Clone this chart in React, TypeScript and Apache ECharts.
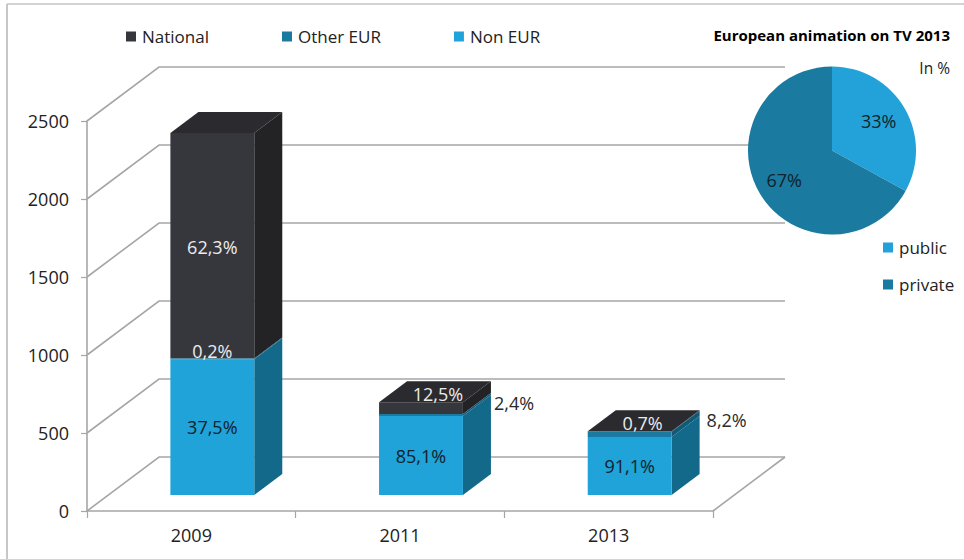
import React, { useEffect, useRef } from "react";
import * as echarts from "echarts";

const years = ["2009", "2011", "2013"];
const nonEur = [870, 506, 372];
const otherEur = [5, 14, 33];
const national = [1445, 75, 3];
const nonEurLabels = ["37,5%", "85,1%", "91,1%"];
const otherEurLabels = ["0,2%", "2,4%", "8,2%"];
const nationalLabels = ["62,3%", "12,5%", "0,7%"];
const gridTicks = [0, 500, 1000, 1500, 2000, 2500];
const pieNames = ["public", "private"];
const pieValues = [33, 67];

const FONT = "'Open Sans', sans-serif";
const DEPTH = { x: 72, y: 54 };
const FRONT = { x: 21, y: 16 };
const BAR = { x: 28, y: 21 };
const GRID_COLOR = "#a6a6a6";

// Stack order bottom -> top; the offsets below are label nudges in pixels.
const stacks = [
  { name: "Non EUR", values: nonEur, labels: nonEurLabels, front: "#1fa3d8", side: "#13698a", top: "#1a7aa0", text: "#10222c", z: 3,
    nudge: [[0, 0], [0, 0], [0, 0]] },
  { name: "Other EUR", values: otherEur, labels: otherEurLabels, front: "#1a7aa0", side: "#105a77", top: "#105a77", text: "#2a2a2a", z: 5,
    nudge: [[0, -8], [93, -12], [97, -14]] },
  { name: "National", values: national, labels: nationalLabels, front: "#36373c", side: "#232326", top: "#2a2a2f", text: "#ececec", z: 4,
    nudge: [[0, 1], [17, -14], [13, -9]] },
];

function baseOf(stackIndex: number, i: number) {
  let sum = 0;
  for (let s = 0; s < stackIndex; s++) sum += stacks[s].values[i];
  return sum;
}

function poly(points: number[][], fill: string) {
  return { type: "polygon", shape: { points }, style: { fill, stroke: null } };
}

function barSeries(stackIndex: number) {
  const st = stacks[stackIndex];
  const isTop = stackIndex === stacks.length - 1;
  return {
    type: "custom",
    name: st.name,
    coordinateSystem: "cartesian2d",
    silent: true,
    z: st.z,
    itemStyle: { color: st.front },
    data: years.map((_, i) => [i, baseOf(stackIndex, i), baseOf(stackIndex, i) + st.values[i]]),
    encode: { x: 0, y: 2 },
    renderItem: (_p: any, api: any) => {
      const i = api.value(0);
      const lo = api.coord([i, api.value(1)]);
      const hi = api.coord([i, api.value(2)]);
      const w = api.size([1, 0])[0] * 0.402;
      const x0 = lo[0] + FRONT.x - w / 2;
      const x1 = x0 + w;
      const yb = lo[1] - FRONT.y;
      const yt = hi[1] - FRONT.y;
      const children: any[] = [
        poly([[x1, yb], [x1 + BAR.x, yb - BAR.y], [x1 + BAR.x, yt - BAR.y], [x1, yt]], st.side),
        { type: "rect", shape: { x: x0, y: yt, width: w, height: yb - yt }, style: { fill: st.front } },
      ];
      if (isTop) {
        children.push(poly([[x0, yt], [x0 + BAR.x, yt - BAR.y], [x1 + BAR.x, yt - BAR.y], [x1, yt]], st.top));
      }
      const onDark = st.name === "Other EUR" && i === 0;
      children.push({
        type: "text",
        z2: 50,
        style: {
          text: st.labels[i],
          x: (x0 + x1) / 2 + st.nudge[i][0],
          y: (yb + yt) / 2 + st.nudge[i][1],
          align: "center",
          verticalAlign: "middle",
          fill: onDark ? "#ececec" : st.text,
          font: `18px ${FONT}`,
        },
      });
      return { type: "group", children };
    },
  };
}

const wallSeries = {
  type: "custom",
  coordinateSystem: "cartesian2d",
  silent: true,
  z: 1,
  data: gridTicks.map((v) => [0, v]),
  encode: { y: 1 },
  renderItem: (_p: any, api: any) => {
    const v = api.value(1);
    const left = api.coord([0, v]);
    const x0 = left[0] - api.size([1, 0])[0] / 2;
    const x1 = x0 + api.size([1, 0])[0] * years.length;
    const y = left[1];
    const style = { stroke: GRID_COLOR, lineWidth: 1.6, fill: "none" };
    const children: any[] = [
      { type: "polyline", shape: { points: [[x0, y], [x0 + DEPTH.x, y - DEPTH.y], [x1 + DEPTH.x, y - DEPTH.y]] }, style },
    ];
    if (v === 0) {
      children.push({ type: "line", shape: { x1, y1: y, x2: x1 + DEPTH.x, y2: y - DEPTH.y }, style });
    }
    return { type: "group", children };
  },
};

export default function App() {
  const ref = useRef<HTMLDivElement>(null);
  useEffect(() => {
    document.body.style.margin = "0";
    const chart = echarts.init(ref.current!, null, { renderer: "svg" });
    const axisLine = { show: true, lineStyle: { color: GRID_COLOR, width: 1.6 } };
    chart.setOption({
      animation: false,
      backgroundColor: "#ffffff",
      textStyle: { fontFamily: FONT },
      title: {
        text: "European animation on TV 2013",
        right: 9,
        top: 22,
        textStyle: { fontFamily: FONT, fontSize: 15, fontWeight: "bold", color: "#000000" },
      },
      legend: [
        {
          data: ["National", "Other EUR", "Non EUR"],
          left: 121,
          top: 23,
          icon: "rect",
          itemWidth: 10,
          itemHeight: 10,
          itemGap: 73,
          selectedMode: false,
          textStyle: { fontFamily: FONT, fontSize: 17, color: "#222222", padding: [0, 0, 0, 1] },
        },
        {
          data: pieNames,
          left: 878,
          top: 234,
          orient: "vertical",
          icon: "rect",
          itemWidth: 10,
          itemHeight: 10,
          itemGap: 20,
          selectedMode: false,
          textStyle: { fontFamily: FONT, fontSize: 17, color: "#222222", padding: [0, 0, 0, 1] },
        },
      ],
      grid: { left: 87, right: 251, top: 121, bottom: 48 },
      xAxis: {
        type: "category",
        data: years,
        axisLine,
        axisTick: { show: true, length: 7, lineStyle: { color: GRID_COLOR, width: 1.2 } },
        axisLabel: { fontFamily: FONT, fontSize: 18, color: "#222222", margin: 15 },
        splitLine: { show: false },
      },
      yAxis: {
        type: "value",
        min: 0,
        max: 2500,
        interval: 500,
        axisLine,
        axisTick: { show: true, length: 6, lineStyle: { color: GRID_COLOR, width: 1.2 } },
        axisLabel: { fontFamily: FONT, fontSize: 18, color: "#222222", margin: 18, formatter: (v: number) => String(v) },
        splitLine: { show: false },
      },
      graphic: [
        { type: "line", silent: true, shape: { x1: 7, y1: 4, x2: 7, y2: 559 }, style: { stroke: "#b4b4b4", lineWidth: 1.5 } },
        { type: "line", silent: true, shape: { x1: 7, y1: 4, x2: 964, y2: 4 }, style: { stroke: "#c4c4c4", lineWidth: 1.5 } },
        {
          type: "text",
          silent: true,
          x: 950,
          y: 68,
          style: { text: "In %", align: "right", verticalAlign: "middle", fill: "#222222", font: `15.5px ${FONT}` },
        },
      ],
      series: [
        wallSeries,
        barSeries(0),
        barSeries(1),
        barSeries(2),
        {
          type: "pie",
          silent: true,
          center: [832, 150.5],
          radius: [0, 84],
          startAngle: 90,
          clockwise: true,
          z: 10,
          data: pieNames.map((name, i) => ({
            name,
            value: pieValues[i],
            itemStyle: { color: i === 0 ? "#22a2d8" : "#1a7aa0" },
          })),
          label: {
            show: true,
            position: "inside",
            formatter: "{c}%",
            fontFamily: FONT,
            fontSize: 18,
            color: "#10222c",
          },
          labelLine: { show: false },
          labelLayout: (p: any) => (p.dataIndex === 0 ? { dx: 8, dy: -7 } : { dx: -9, dy: 7 }),
        },
      ],
    });
    return () => chart.dispose();
  }, []);
  return <div ref={ref} style={{ width: 964, height: 559 }} />;
}
